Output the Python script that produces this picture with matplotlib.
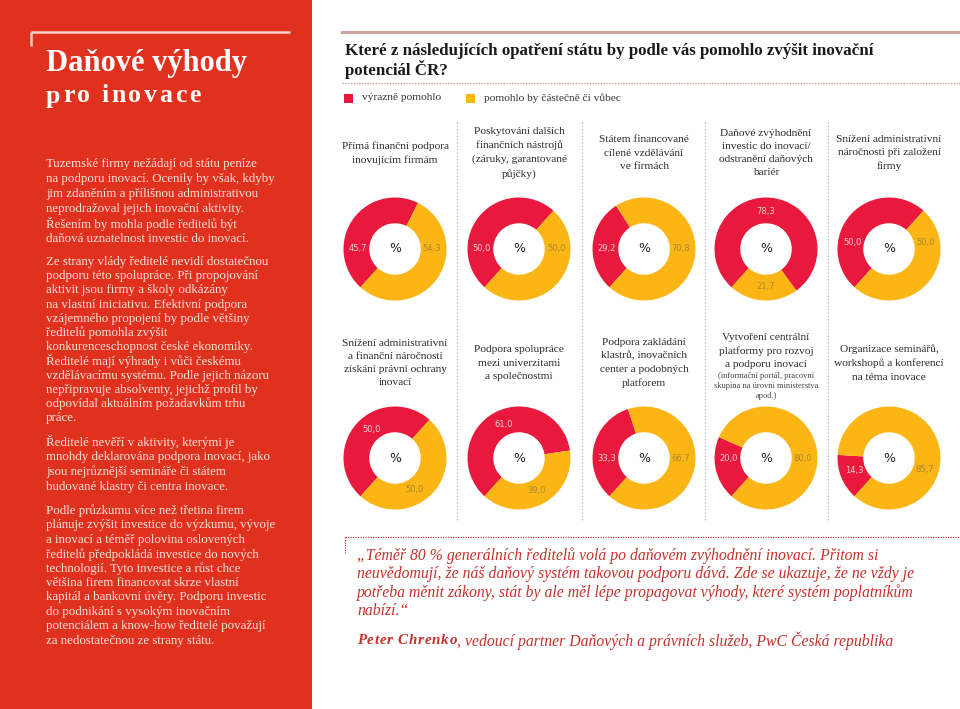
import matplotlib
matplotlib.use("Agg")
import matplotlib.pyplot as plt
import numpy as np
from matplotlib.patches import Rectangle

W, H = 960, 709
PANEL_RED = "#e0301e"
RED, YEL = "#e8193c", "#fbb615"
PALE = "#fbe6df"
QUOTE_C = "#c7312c"
SERIF = "Liberation Serif"

# ---- data: share of CEOs (%) ----
measures = [
    "Přímá finanční podpora\ninovujícím firmám",
    "Poskytování dalších\nfinančních nástrojů\n(záruky, garantované\npůjčky)",
    "Státem financované\ncílené vzdělávání\nve firmách",
    "Daňové zvýhodnění\ninvestic do inovací/\nodstranění daňových\nbariér",
    "Snížení administrativní\nnáročnosti při založení\nfirmy",
    "Snížení administrativní\na finanční náročnosti\nzískání právní ochrany\ninovací",
    "Podpora spolupráce\nmezi univerzitami\na společnostmi",
    "Podpora zakládání\nklastrů, inovačních\ncenter a podobných\nplatforem",
    "Vytvoření centrální\nplatformy pro rozvoj\na podporu inovací",
    "Organizace seminářů,\nworkshopů a konferencí\nna téma inovace",
]
helped_a_lot = [45.7, 50.0, 29.2, 78.3, 50.0, 50.0, 61.0, 33.3, 20.0, 14.3]
helped_partly = [54.3, 50.0, 70.8, 21.7, 50.0, 50.0, 39.0, 66.7, 80.0, 85.7]
legend_labels = ["výrazně pomohlo", "pomohlo by částečně či vůbec"]
note_platform = "(informační portál, pracovní\nskupina na úrovni ministerstva\napod.)"

# where the value labels sit on each ring (degrees)
red_lbl_ang = [180, 180, 180, 90, 170, 130, 114, 180, 180, 200]
yel_lbl_ang = [0, 0, 0, 270, 10, 301, 299, 0, 0, 342]

paragraphs = [
    ["Tuzemské firmy nežádají od státu peníze",
     "na podporu inovací. Ocenily by však, kdyby",
     "jim zdaněním a přílišnou administrativou",
     "neprodražoval jejich inovační aktivity.",
     "Řešením by mohla podle ředitelů být",
     "daňová uznatelnost investic do inovací."],
    ["Ze strany vlády ředitelé nevidí dostatečnou",
     "podporu této spolupráce. Při propojování",
     "aktivit jsou firmy a školy odkázány",
     "na vlastní iniciativu. Efektivní podpora",
     "vzájemného propojení by podle většiny",
     "ředitelů pomohla zvýšit",
     "konkurenceschopnost české ekonomiky.",
     "Ředitelé mají výhrady i vůči českému",
     "vzdělávacímu systému. Podle jejich názoru",
     "nepřipravuje absolventy, jejichž profil by",
     "odpovídal aktuálním požadavkům trhu",
     "práce."],
    ["Ředitelé nevěří v aktivity, kterými je",
     "mnohdy deklarována podpora inovací, jako",
     "jsou nejrůznější semináře či státem",
     "budované klastry či centra inovace."],
    ["Podle průzkumu více než třetina firem",
     "plánuje zvýšit investice do výzkumu, vývoje",
     "a inovací a téměř polovina oslovených",
     "ředitelů předpokládá investice do nových",
     "technologií. Tyto investice a růst chce",
     "většina firem financovat skrze vlastní",
     "kapitál a bankovní úvěry. Podporu investic",
     "do podnikání s vysokým inovačním",
     "potenciálem a know-how ředitelé považují",
     "za nedostatečnou ze strany státu."],
]
para_top = [164, 262, 442, 511]
para_step = [15.0, 14.2, 15.0, 14.4]

quote_lines = [
    "„Téměř 80 % generálních ředitelů volá po daňovém zvýhodnění inovací. Přitom si",
    "neuvědomují, že náš daňový systém takovou podporu dává. Zde se ukazuje, že ne vždy je",
    "potřeba měnit zákony, stát by ale měl lépe propagovat výhody, které systém poplatníkům",
    "nabízí.“",
]

fig = plt.figure(figsize=(W / 100, H / 100), dpi=100)
bg = fig.add_axes([0, 0, 1, 1])
bg.set_xlim(0, W); bg.set_ylim(H, 0); bg.axis("off")
rend = fig.canvas.get_renderer()


def spaced(x, y, s, extra, fontsize, **kw):
    # letter-spaced text, one glyph at a time (1 data unit = 1 px)
    for ch in s:
        if ch == " ":
            x += 0.25 * fontsize * 100 / 72 + extra
            continue
        t = bg.text(x, y, ch, fontsize=fontsize, **kw)
        x += t.get_window_extent(renderer=rend).width + extra
    return x


# ---- left red panel ----
bg.add_patch(Rectangle((0, 0), 312, H, color=PANEL_RED, lw=0))
bg.plot([31, 290], [32, 32], color="#f6d2c8", lw=1.8, solid_capstyle="butt")
bg.plot([31, 31], [32, 46], color="#f6d2c8", lw=1.8, solid_capstyle="butt")
bg.text(46, 64, "Daňové výhody", family=SERIF, weight="bold", fontsize=22,
        color="white", va="center")
spaced(46, 96, "pro inovace", 2.6, 18.5, family=SERIF, weight="bold",
       color="white", va="center")
for lines, y0, st in zip(paragraphs, para_top, para_step):
    for k, ln in enumerate(lines):
        bg.text(46, y0 + k * st, ln, family=SERIF, fontsize=9.3, color=PALE, va="center")

# ---- header ----
bg.plot([342, W], [32, 32], color="#c9a39c", lw=2.2)
bg.text(345, 55, "Které z následujících opatření státu by podle vás pomohlo zvýšit inovační",
        family=SERIF, weight="bold", fontsize=12.2, color="#1a1a1a", va="baseline")
bg.text(345, 75, "potenciál ČR?", family=SERIF, weight="bold", fontsize=12.2,
        color="#1a1a1a", va="baseline")
bg.plot([342, W], [83, 83], color="#c9a39c", lw=1.0, ls=(0, (1, 1)))
for lab, col, x in zip(legend_labels, [RED, YEL], [344, 466]):
    bg.add_patch(Rectangle((x, 93.5), 9, 9, color=col, lw=0))
    bg.text(x + 18, 98, lab, family=SERIF, fontsize=8.2, color="#333", va="center")

# ---- column separators ----
col_x = [395, 519, 644, 766, 889]
for a, b in zip(col_x[:-1], col_x[1:]):
    bg.plot([(a + b) / 2] * 2, [122, 520], color="#aaaaaa", lw=0.8, ls=(0, (1, 2)))

# ---- donuts ----
R = 51.5
row_y = [249, 458]
head_y = [153, 363]
for i in range(10):
    r, c = divmod(i, 5)
    cx, cy = col_x[c], row_y[r]
    if i == 8:
        bg.text(cx, 351, measures[i], family=SERIF, fontsize=8.2, color="#2a2a2a",
                ha="center", va="center", linespacing=1.6)
        bg.text(cx, 386, note_platform, family=SERIF, fontsize=6, color="#444",
                ha="center", va="center", linespacing=1.3)
    else:
        bg.text(cx, head_y[r], measures[i], family=SERIF, fontsize=8.2, color="#2a2a2a",
                ha="center", va="center", linespacing=1.6)
    ax = fig.add_axes([(cx - R) / W, 1 - (cy + R) / H, 2 * R / W, 2 * R / H])
    ax.pie([helped_a_lot[i], helped_partly[i]], colors=[RED, YEL], startangle=228,
           counterclock=False, radius=1, wedgeprops=dict(width=0.5, linewidth=0))
    ax.set_xlim(-1, 1); ax.set_ylim(-1, 1); ax.set_aspect("equal"); ax.axis("off")
    ax.text(0, 0, "%", ha="center", va="center", fontsize=9, color="#222", family="DejaVu Sans")
    for val, ang, tc in [(helped_a_lot[i], red_lbl_ang[i], "#f9cfd5"),
                         (helped_partly[i], yel_lbl_ang[i], "#a88630")]:
        t = np.deg2rad(ang)
        ax.text(0.72 * np.cos(t), 0.72 * np.sin(t), f"{val:.1f}".replace(".", ","),
                ha="center", va="center", fontsize=6, color=tc, family="DejaVu Sans")

# ---- quote ----
bg.plot([345, W], [537, 537], color=QUOTE_C, lw=0.9, ls=(0, (1, 1)))
bg.plot([345, 345], [537, 553], color=QUOTE_C, lw=0.9, ls=(0, (1, 1)))
for k, ln in enumerate(quote_lines):
    bg.text(357, 556 + k * 18.3, ln, family=SERIF, style="italic", fontsize=11.3,
            color=QUOTE_C, va="center")
x_end = spaced(357, 641, "Peter Chrenko", 0.8, 10.8, family=SERIF, style="italic",
               weight="bold", color=QUOTE_C, va="center")
bg.text(x_end - 0.8, 641, ", vedoucí partner Daňových a právních služeb, PwC Česká republika",
        family=SERIF, style="italic", fontsize=11.3, color=QUOTE_C, va="center")

fig.savefig("out.png", dpi=100, facecolor="white")
